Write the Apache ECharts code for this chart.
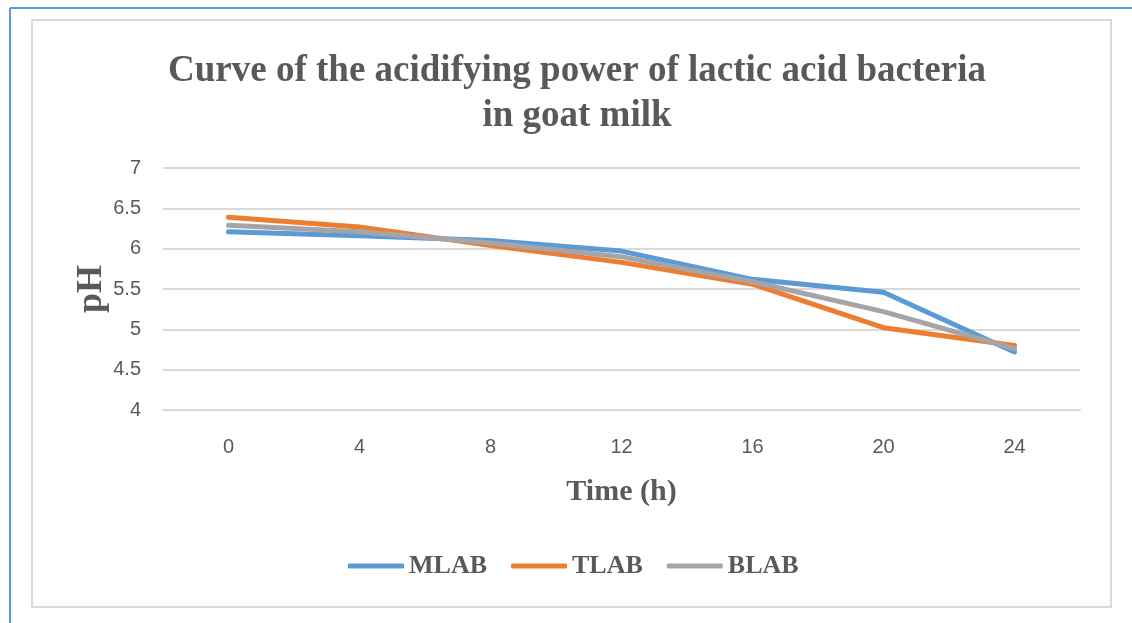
<!DOCTYPE html>
<html><head><meta charset="utf-8">
<script src="https://cdn.jsdelivr.net/npm/echarts@6/dist/echarts.min.js"></script>
<style>html,body{margin:0;padding:0;background:#fff}#c{width:1132px;height:623px}</style>
</head><body><div id="c"></div>
<script>
const categories = ['0','4','8','12','16','20','24'];
const mlab = [6.21, 6.16, 6.10, 5.97, 5.62, 5.46, 4.72];
const tlab = [6.39, 6.27, 6.04, 5.83, 5.56, 5.02, 4.80];
const blab = [6.29, 6.21, 6.07, 5.90, 5.59, 5.22, 4.76];
const seriesNames = ['MLAB','TLAB','BLAB'];
const colors = ['#5B9BD5','#ED7D31','#A5A5A5'];

const chart = echarts.init(document.getElementById('c'));
const serif = '"Liberation Serif", "DejaVu Serif", serif';
const sans = '"Liberation Sans", Arial, sans-serif';
chart.setOption({
  animation:false,
  backgroundColor:'#fff',
  title:{
    text:'Curve of the acidifying power of lactic acid bacteria\nin goat milk',
    left:572, top:44, textAlign:'center',
    textStyle:{fontFamily:serif, fontWeight:'bold', fontSize:37, color:'#595959', lineHeight:45}
  },
  graphic:[
    {type:'line', shape:{x1:10,y1:8,x2:10,y2:623}, style:{stroke:'#5B9BD5', lineWidth:2}},
    {type:'line', shape:{x1:10,y1:8,x2:1132,y2:8}, style:{stroke:'#5B9BD5', lineWidth:2}},
    {type:'rect', shape:{x:32,y:20,width:1079,height:587}, style:{fill:'none', stroke:'#d9d9d9', lineWidth:2}}
  ],
  legend:{
    top:548, left:343, itemWidth:56, itemHeight:5, itemGap:24,
    textStyle:{fontFamily:serif, fontWeight:'bold', fontSize:26, color:'#595959'},
    data:seriesNames.map(n=>({name:n, icon:'roundRect'}))
  },
  grid:{left:163, right:52, top:168, bottom:213},
  xAxis:{
    type:'category', data:categories, boundaryGap:true,
    name:'Time (h)', nameLocation:'middle', nameGap:67, nameMoveOverlap:false,
    nameTextStyle:{fontFamily:serif, fontWeight:'bold', fontSize:30, color:'#595959'},
    axisLine:{show:true, lineStyle:{color:'#d9d9d9', width:2}},
    axisTick:{show:false},
    axisLabel:{fontFamily:sans, fontSize:20, color:'#595959', margin:27}
  },
  yAxis:{
    type:'value', min:4, max:7, interval:0.5,
    name:'pH', nameLocation:'middle', nameGap:53, nameRotate:90, nameMoveOverlap:false,
    nameTextStyle:{fontFamily:serif, fontWeight:'bold', fontSize:36, color:'#595959'},
    axisLine:{show:false}, axisTick:{show:false},
    splitLine:{lineStyle:{color:'#d9d9d9', width:2}},
    axisLabel:{fontFamily:sans, fontSize:20, color:'#595959', margin:22}
  },
  series:[mlab, tlab, blab].map((d,i)=>({
    name:seriesNames[i], type:'line', data:d, symbol:'none',
    lineStyle:{color:colors[i], width:5, cap:'round', join:'round'},
    itemStyle:{color:colors[i]}
  }))
});
</script></body></html>
